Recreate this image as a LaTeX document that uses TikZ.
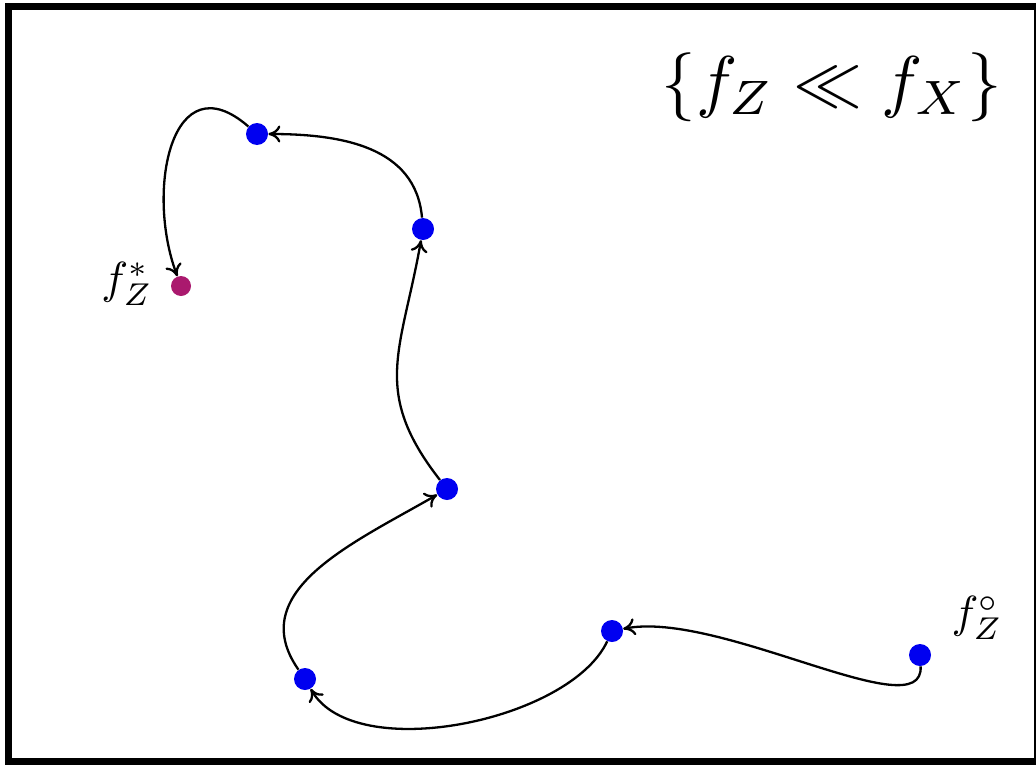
\documentclass[tikz,border=0pt]{standalone}
\usetikzlibrary{arrows.meta}
\usepackage{graphicx}
\definecolor{dotblue}{RGB}{0,0,240}
\definecolor{dotmag}{RGB}{170,25,110}
\begin{document}
\begin{tikzpicture}[x=0.5pt,y=-0.5pt,
  dot/.style={circle,fill=dotblue,inner sep=0pt,minimum size=11pt},
  mdot/.style={circle,fill=dotmag,inner sep=0pt,minimum size=10pt},
  conn/.style={line width=1.15pt,-{To[length=6pt,width=8.5pt]}},
  lab/.style={inner sep=0pt}]
\useasboundingbox (0,0) rectangle (1036,765);
\begin{scope}
\clip (0,0) rectangle (1036,765);
\draw[line width=3.5pt] (8.5,7) rectangle (1037.5,761.5);
\end{scope}
\node[dot] (A) at (257,134) {};
\node[dot] (B) at (423,229) {};
\node[dot] (C) at (447,489) {};
\node[dot] (D) at (305,679) {};
\node[dot] (E) at (612,631) {};
\node[dot] (F) at (920,655) {};
\node[mdot] (G) at (181,286) {};
\node[lab] (lG) at (127,284) {\scalebox{2.25}{$f_Z^*$}};
\node[lab] (lF) at (977,618) {\scalebox{2.25}{$f_Z^\circ$}};
\node[lab] (title) at (832,87) {\scalebox{3.45}{$\{f_Z \ll f_X\}$}};
\draw[conn] (F) .. controls (924,730) and (720,610) .. (E);
\draw[conn] (E) to[out=-115,in=-60,looseness=0.75] (D);
\draw[conn] (D) to[out=125,in=-150,looseness=1.1] (C);
\draw[conn] (C) to[out=128,in=-100,looseness=1.2] (B);
\draw[conn] (B) to[out=95,in=0,looseness=1.05] (A);
\draw[conn] (A) .. controls (172,60) and (145,190) .. (G);
\end{tikzpicture}
\end{document}
